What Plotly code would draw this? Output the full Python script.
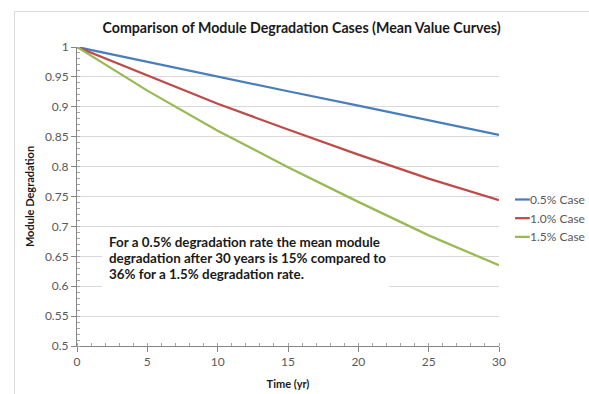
import plotly.graph_objects as go

# Mean module output relative to year 0, sampled every 5 years
years = [0, 5, 10, 15, 20, 25, 30]
case_05 = [1.0, 0.975, 0.951, 0.926, 0.902, 0.877, 0.853]
case_10 = [1.0, 0.952, 0.905, 0.862, 0.820, 0.780, 0.744]
case_15 = [1.0, 0.927, 0.860, 0.799, 0.741, 0.685, 0.635]

series_names = ["0.5% Case", "1.0% Case", "1.5% Case"]
series_colors = ["#4a7ebb", "#be4b48", "#98b954"]

y_ticks = [0.5, 0.55, 0.6, 0.65, 0.7, 0.75, 0.8, 0.85, 0.9, 0.95, 1.0]
y_labels = ["0.5", "0.55", "0.6", "0.65", "0.7", "0.75", "0.8", "0.85", "0.9", "0.95", "1"]
x_ticks = [0, 5, 10, 15, 20, 25, 30]

note_lines = [
    "For a 0.5% degradation rate the mean module",
    "degradation after 30 years is 15% compared to",
    "36% for a 1.5% degradation rate.",
]

FONT = "Lato, 'Open Sans', sans-serif"

fig = go.Figure()
for name, vals, col in zip(series_names, [case_05, case_10, case_15], series_colors):
    fig.add_trace(go.Scatter(
        x=years, y=vals, name=name, mode="lines",
        line=dict(color=col, width=2.25), showlegend=False,
    ))

fig.update_layout(
    width=589, height=394,
    margin=dict(l=77, r=90, t=47, b=48, autoexpand=False),
    paper_bgcolor="white", plot_bgcolor="white",
    font=dict(family=FONT, color="#595959", size=12),
    title=dict(
        text="<b>Comparison of Module Degradation Cases (Mean Value Curves)</b>",
        x=0.512, xanchor="center", y=0.93, yanchor="middle",
        font=dict(family=FONT, size=14.2, color="#1a1a1a"),
    ),
)

fig.update_xaxes(
    range=[0, 30], tickvals=x_ticks,
    showline=True, linecolor="#868686", linewidth=1,
    ticks="outside", ticklen=5, tickcolor="#868686",
    minor=dict(ticks="inside", dtick=1, ticklen=3, tickcolor="#a6a6a6", showgrid=False),
    showgrid=False, zeroline=False,
    tickfont=dict(size=12, color="#595959"),
    title=dict(text="<b>Time (yr)</b>", font=dict(size=11, color="#1a1a1a"), standoff=11),
)
fig.update_yaxes(
    range=[0.5, 1.0], tickvals=y_ticks, ticktext=y_labels,
    showline=True, linecolor="#868686", linewidth=1,
    ticks="outside", ticklen=5, tickcolor="#868686",
    minor=dict(ticks="inside", dtick=0.01, ticklen=3, tickcolor="#a6a6a6", showgrid=False),
    showgrid=True, gridcolor="#d9d9d9", gridwidth=1, zeroline=False,
    tickfont=dict(size=12, color="#595959"),
    title=dict(text="<b>Module Degradation</b>", font=dict(size=11, color="#1a1a1a"), standoff=8),
)

# Light frame around the chart area
fig.add_shape(type="rect", xref="paper", yref="paper",
              x0=-0.148, x1=1.4, y0=-0.3, y1=1.119,
              line=dict(color="#d9d9d9", width=1), fillcolor="rgba(0,0,0,0)", layer="below")

# Legend drawn as short line swatches with labels to the right of the plot
for i, (name, col) in enumerate(zip(series_names, series_colors)):
    yp = 0.49 - i * 0.0625
    fig.add_shape(type="line", xref="paper", yref="paper",
                  x0=1.038, x1=1.073, y0=yp, y1=yp,
                  line=dict(color=col, width=2.25))
    fig.add_annotation(x=1.073, y=yp, xref="paper", yref="paper",
                       xanchor="left", yanchor="middle", text=name, showarrow=False,
                       font=dict(family=FONT, size=12, color="#595959"), xshift=-2)

# Text box with the summary note
fig.add_shape(type="rect", xref="x", yref="y", x0=1.78, x1=22.2, y0=0.591, y1=0.693,
              line=dict(width=0), fillcolor="white", layer="above")
for i, line in enumerate(note_lines):
    fig.add_annotation(
        x=2.13, y=0.6745 - i * 0.0267, xref="x", yref="y",
        xanchor="left", yanchor="middle", text="<b>" + line + "</b>",
        showarrow=False, align="left",
        font=dict(family=FONT, size=13.4, color="#1a1a1a"),
    )

fig.write_html("out.html")
